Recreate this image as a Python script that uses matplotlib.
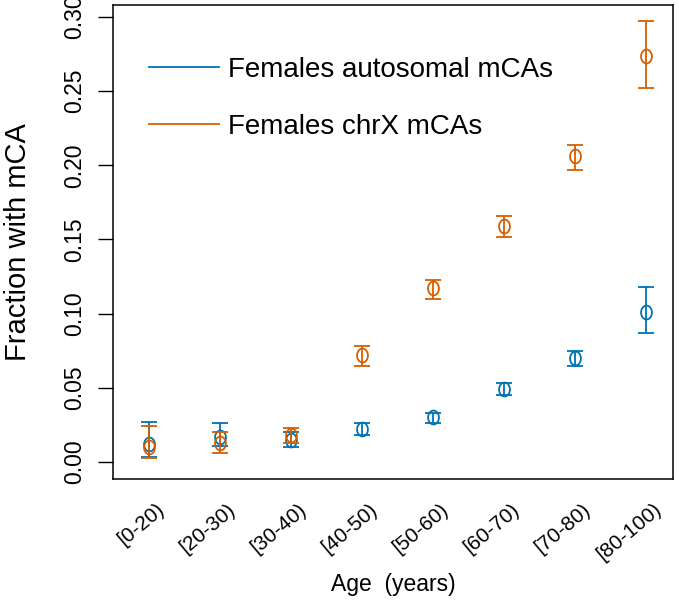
import numpy as np
import matplotlib
matplotlib.use('Agg')
import matplotlib.pyplot as plt
from matplotlib.path import Path
from matplotlib.lines import Line2D

# age groups on the x axis
age_groups = ['[0-20)', '[20-30)', '[30-40)', '[40-50)',
              '[50-60)', '[60-70)', '[70-80)', '[80-100)']

# fraction with mCA, with lower / upper confidence bounds
auto_mean = [0.012, 0.017, 0.015, 0.022, 0.030, 0.049, 0.070, 0.101]
auto_low = [0.0036, 0.011, 0.010, 0.018, 0.026, 0.045, 0.065, 0.087]
auto_high = [0.027, 0.026, 0.020, 0.026, 0.033, 0.053, 0.075, 0.118]

chrx_mean = [0.010, 0.013, 0.018, 0.072, 0.117, 0.159, 0.206, 0.274]
chrx_low = [0.0025, 0.006, 0.013, 0.065, 0.110, 0.152, 0.197, 0.252]
chrx_high = [0.0245, 0.020, 0.023, 0.078, 0.123, 0.166, 0.214, 0.297]

series_labels = ['Females autosomal mCAs', 'Females chrX mCAs']
colors = ['#0072B2', '#D55E00']

plt.rcParams['font.family'] = ['Liberation Sans', 'DejaVu Sans']

# slightly tall open ellipse used as the point marker
t = np.linspace(0, 2 * np.pi, 60)
ellipse = Path(np.column_stack([0.78 * np.cos(t), np.sin(t)]), closed=True)

fig = plt.figure(figsize=(6.79, 6.03), dpi=100)
ax = fig.add_axes([0.1664, 0.2056, 0.8248, 0.7861])

x = np.arange(1, len(age_groups) + 1)
for mean, low, high, c in [(auto_mean, auto_low, auto_high, colors[0]),
                           (chrx_mean, chrx_low, chrx_high, colors[1])]:
    mean = np.array(mean)
    yerr = [mean - np.array(low), np.array(high) - mean]
    ax.errorbar(x, mean, yerr=yerr, fmt='none', ecolor=c,
                elinewidth=1.3, capsize=6, capthick=1.3)
    ax.plot(x, mean, linestyle='none', marker=ellipse, markersize=10,
            markerfacecolor='none', markeredgecolor=c, markeredgewidth=1.3)

ax.set_xlim(0.493, 8.38)
ax.set_ylim(-0.0115, 0.3081)

ax.set_yticks(np.arange(0, 0.31, 0.05))
ax.set_yticklabels(['%.2f' % v for v in np.arange(0, 0.31, 0.05)],
                   rotation=90, va='center', fontsize=16.5)
ax.tick_params(axis='y', length=10.5, width=1.0, pad=9)

# labels are rotated and end a bit right of each group
ax.set_xticks(x + 0.18)
ax.set_xticklabels(age_groups, rotation=40, ha='right', va='center',
                   rotation_mode='anchor', fontsize=15)
ax.tick_params(axis='x', length=0, pad=20)

for s in ax.spines.values():
    s.set_linewidth(1.1)

ax.set_xlabel('Age  (years)', fontsize=16.5)
ax.xaxis.set_label_coords(0.5, -0.198)
ax.set_ylabel('Fraction with mCA', fontsize=21)
ax.yaxis.set_label_coords(-0.145, 0.5)

handles = [Line2D([], [], color=c, lw=1.3) for c in colors]
ax.legend(handles, series_labels, loc='upper left', bbox_to_anchor=(0.02, 0.943),
          frameon=False, fontsize=20, handlelength=2.5, handletextpad=0.33,
          labelspacing=1.1)

fig.savefig('out.png', dpi=100)
